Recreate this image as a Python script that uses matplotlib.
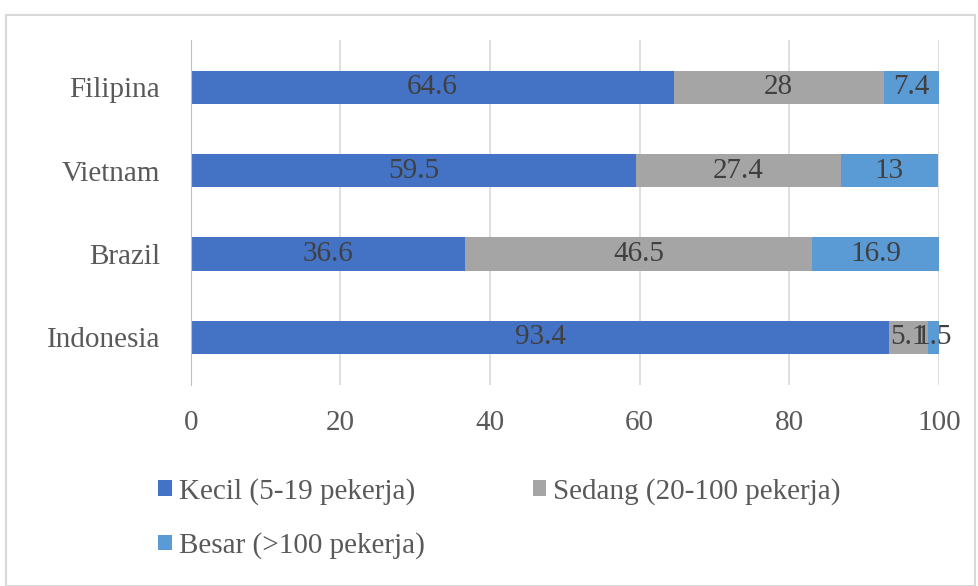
import matplotlib.pyplot as plt
from matplotlib.patches import Rectangle

countries = ["Indonesia", "Brazil", "Vietnam", "Filipina"]
kecil = [93.4, 36.6, 59.5, 64.6]
sedang = [5.1, 46.5, 27.4, 28]
besar = [1.5, 16.9, 13, 7.4]
series_names = ["Kecil (5-19 pekerja)", "Sedang (20-100 pekerja)", "Besar (>100 pekerja)"]
colors = ["#4472C4", "#A5A5A5", "#5B9BD5"]

plt.rcParams["font.family"] = ["Liberation Serif", "DejaVu Serif"]

fig = plt.figure(figsize=(9.79, 5.86), dpi=100)
ax = fig.add_axes([0.195, 0.343, 0.764, 0.589])

# outer frame of the chart area
fig.patches.append(Rectangle((0.006, 0.0), 0.99, 0.975, transform=fig.transFigure,
                             fill=False, edgecolor="#D9D9D9", linewidth=1.5))

left = [0] * len(countries)
handles = []
for name, vals, c in zip(series_names, [kecil, sedang, besar], colors):
    bars = ax.barh(countries, vals, left=left, height=0.4, color=c, label=name, zorder=3)
    ax.bar_label(bars, labels=[f"{v:g}" for v in vals], label_type="center",
                 fontsize=21, color="#404040")
    handles.append(bars)
    left = [l + v for l, v in zip(left, vals)]

ax.set_xlim(0, 100)
ax.set_ylim(-0.57, 3.57)
ax.set_xticks(range(0, 101, 20))
ax.grid(axis="x", color="#D9D9D9", linewidth=1.2, zorder=0)
for s in ["top", "right", "bottom"]:
    ax.spines[s].set_visible(False)
ax.spines["left"].set_color("#BFBFBF")
ax.spines["left"].set_zorder(4)
ax.tick_params(axis="both", length=0, labelsize=21, labelcolor="#595959")
ax.tick_params(axis="y", pad=22)
ax.tick_params(axis="x", pad=18)

# row-major order: Kecil, Sedang on the first row, Besar below
order = [0, 2, 1]
ax.legend([handles[i] for i in order], [series_names[i] for i in order],
          loc="upper left", bbox_to_anchor=(-0.059, -0.235), ncol=2, frameon=False,
          fontsize=21, labelcolor="#595959", handlelength=0.45, handleheight=0.45,
          handletextpad=0.25, columnspacing=3.7, borderaxespad=0, labelspacing=0.95)

fig.savefig("out.png", dpi=100, facecolor="white")
